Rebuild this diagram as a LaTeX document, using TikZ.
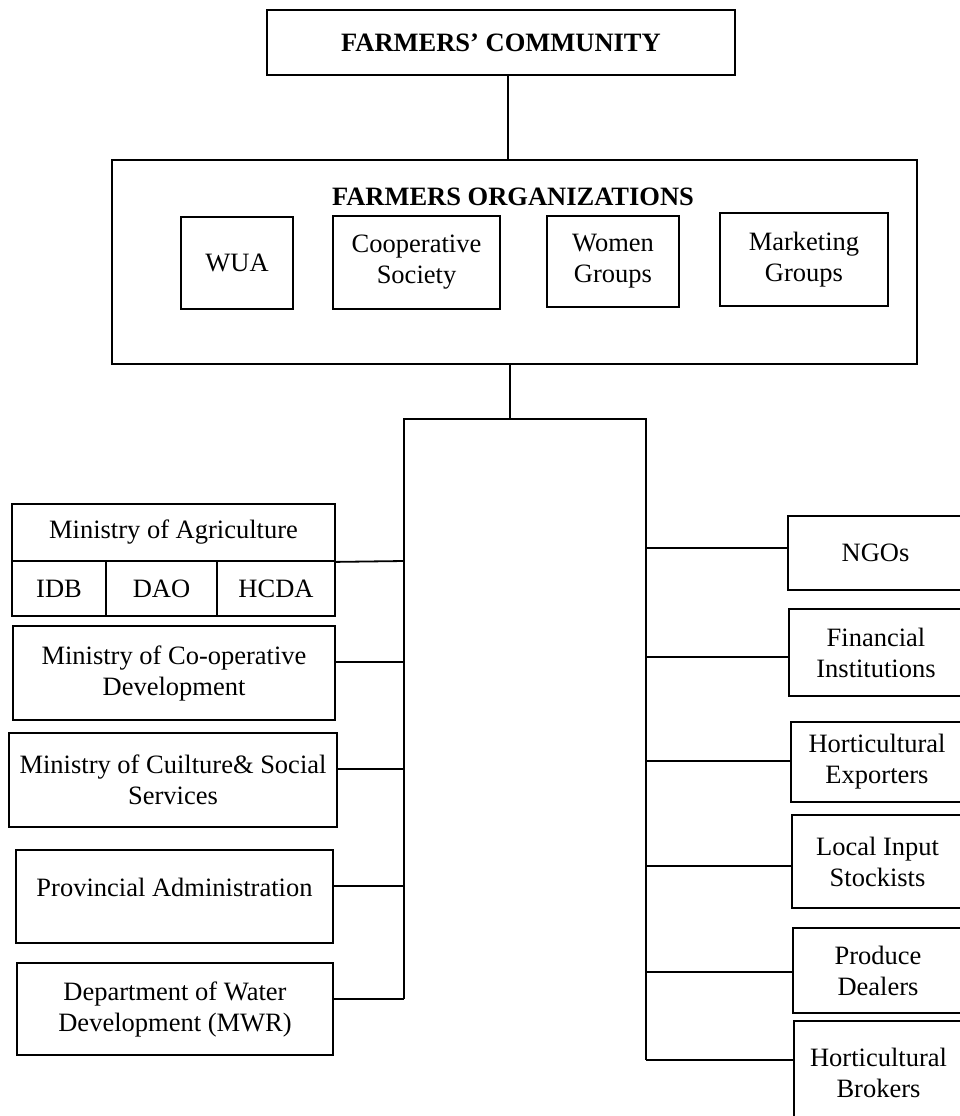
\documentclass[tikz,border=0pt]{standalone}
\usepackage{fontspec}
\setmainfont{Liberation Serif}
\begin{document}
\begin{tikzpicture}[x=1pt,y=-1pt,
  box/.style={draw, line width=1.8pt, inner sep=0pt, align=center,
    font=\fontsize{26.5}{31}\selectfont},
  title/.style={inner sep=0pt, font=\bfseries\fontsize{26.5}{31}\selectfont},
  wire/.style={line width=1.8pt},
]
\useasboundingbox (0,0) rectangle (959,1116);

% top of the hierarchy
\node[box, title, draw, minimum width=468pt, minimum height=65pt] (comm) at (501,42.5) {FARMERS' COMMUNITY};
\node[box, minimum width=805pt, minimum height=204pt] (org) at (514.5,262) {};
\node[title] (orgtitle) at (513,197) {FARMERS ORGANIZATIONS};
\node[box, minimum width=112pt, minimum height=92pt] (wua) at (237,263) {WUA};
\node[box, minimum width=167pt, minimum height=93pt] (coop) at (416.5,262.5) {Cooperative\\Society};
\node[box, minimum width=132pt, minimum height=91pt] (women) at (613,261.5) {Women\\Groups};
\node[box, minimum width=168pt, minimum height=93pt] (mkt) at (804,259.5) {Marketing\\Groups};

% government side
\node[box, minimum width=323pt, minimum height=57pt] (moa) at (173.5,532.5) {Ministry of Agriculture};
\node[box, minimum width=94pt, minimum height=55pt] (idb) at (59,588.5) {IDB};
\node[box, minimum width=111pt, minimum height=55pt] (dao) at (161.5,588.5) {DAO};
\node[box, minimum width=118pt, minimum height=55pt] (hcda) at (276,588.5) {HCDA};
\node[box, minimum width=322pt, minimum height=94pt] (mocd) at (174,673) {Ministry of Co-operative\\Development};
\node[box, minimum width=328pt, minimum height=94pt] (cult) at (173,780) {Ministry of Cuilture\& Social\\Services};
\node[box, minimum width=317pt, minimum height=93pt] (prov) at (174.5,896.5) {};
\node[font=\fontsize{26.5}{31}\selectfont, inner sep=0pt] (provtext) at (prov.center |- 0,887) {Provincial Administration};
\node[box, minimum width=316pt, minimum height=92pt] (water) at (175,1009) {Department of Water\\Development (MWR)};

% private side
\node[box, minimum width=175pt, minimum height=74pt] (ngo) at (875.5,553) {NGOs};
\node[box, minimum width=174pt, minimum height=87pt] (fin) at (876,652.5) {Financial\\Institutions};
\node[box, minimum width=172pt, minimum height=80pt] (hexp) at (877,762) {Horticultural\\Exporters};
\node[box, minimum width=171pt, minimum height=93pt] (lis) at (877.5,861.5) {Local Input\\Stockists};
\node[box, minimum width=170pt, minimum height=85pt] (prod) at (878,970.5) {Produce\\Dealers};
\node[box, minimum width=169pt, minimum height=104pt] (hbro) at (878.5,1073) {Horticultural\\Brokers};

% connector junctions
\coordinate (c1) at (508,0);
\coordinate (bt) at (510,419);
\coordinate (lb) at (404,419);
\coordinate (rb) at (646,419);
\coordinate (l1) at (404,561);
\coordinate (l2) at (404,662);
\coordinate (l3) at (404,769);
\coordinate (l4) at (404,886);
\coordinate (l5) at (404,999);
\coordinate (r1) at (646,548);
\coordinate (r2) at (646,657);
\coordinate (r3) at (646,761);
\coordinate (r4) at (646,866);
\coordinate (r5) at (646,972);
\coordinate (r6) at (646,1060);

\draw[wire] (comm.south -| c1) -- (org.north -| c1);
\draw[wire] (org.south -| bt) -- (bt);
\draw[wire] (l5) -- (lb) -- (rb) -- (r6);

\draw[wire] (moa.south east) -- (l1);
\draw[wire] (l2 -| mocd.east) -- (l2);
\draw[wire] (l3 -| cult.east) -- (l3);
\draw[wire] (l4 -| prov.east) -- (l4);
\draw[wire] (l5 -| water.east) -- (l5);

\draw[wire] (r1) -- (r1 -| ngo.west);
\draw[wire] (r2) -- (r2 -| fin.west);
\draw[wire] (r3) -- (r3 -| hexp.west);
\draw[wire] (r4) -- (r4 -| lis.west);
\draw[wire] (r5) -- (r5 -| prod.west);
\draw[wire] (r6) -- (r6 -| hbro.west);
\end{tikzpicture}
\end{document}
